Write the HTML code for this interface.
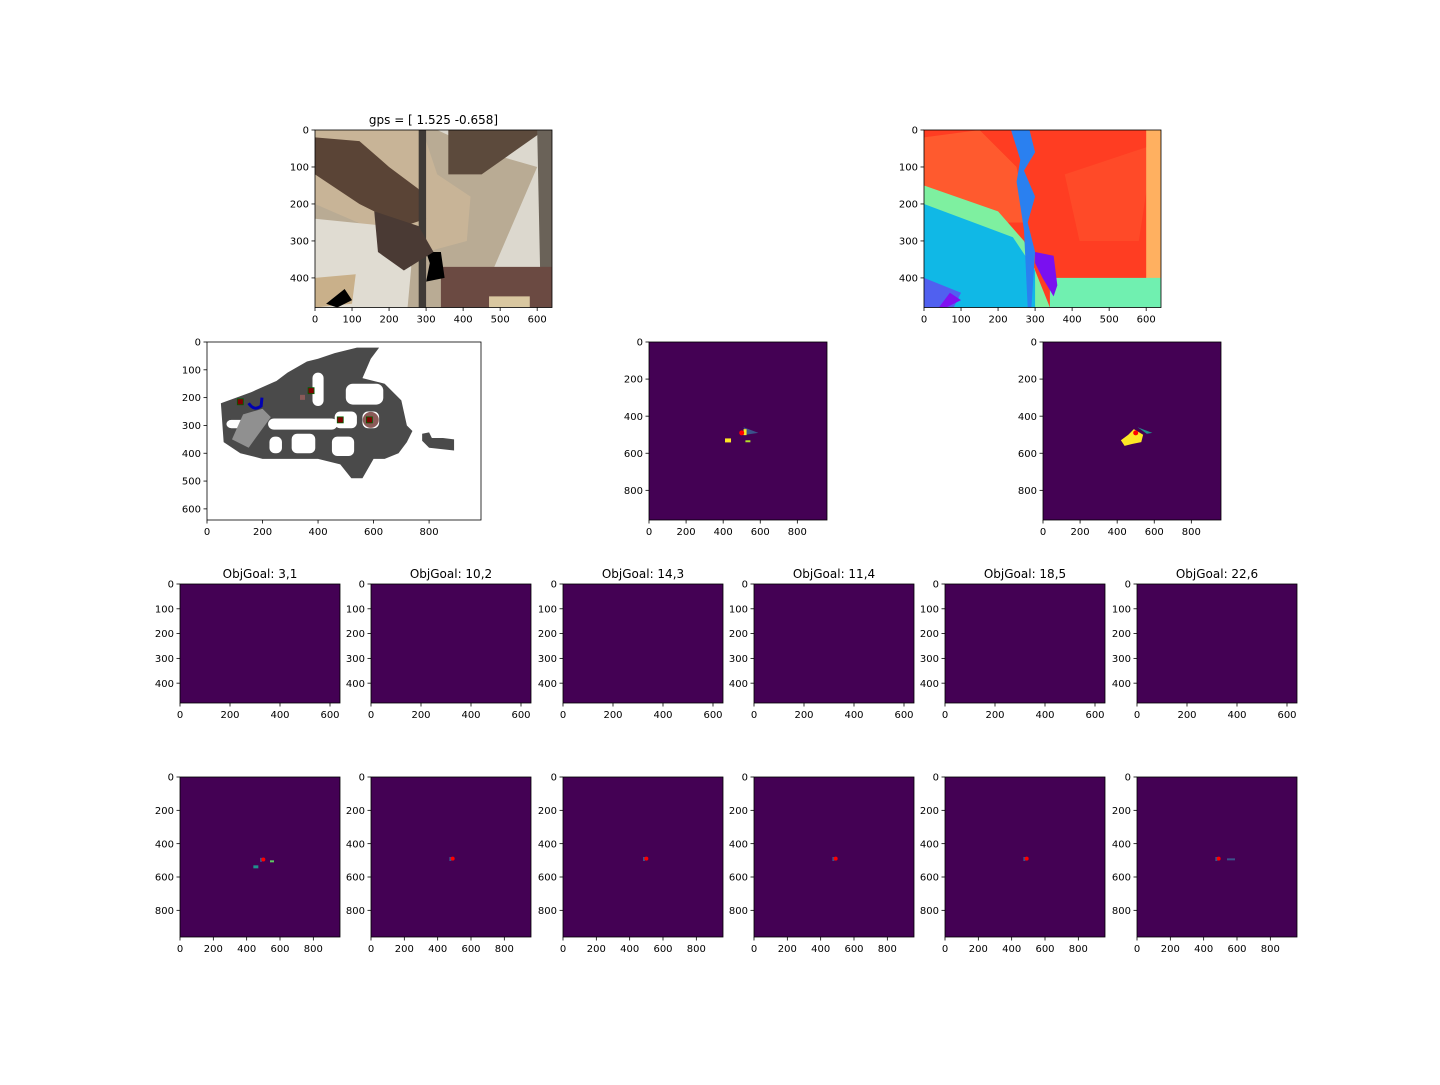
<!DOCTYPE html>
<html><head><meta charset="utf-8"><style>
html,body{margin:0;padding:0;background:#fff;}
svg text{font-family:"DejaVu Sans","Liberation Sans",sans-serif;fill:#000;}
</style></head><body>
<svg id="fig" width="1440" height="1080" xmlns="http://www.w3.org/2000/svg"></svg>
<script>
const titlesRow3 = ["ObjGoal: 3,1","ObjGoal: 10,2","ObjGoal: 14,3","ObjGoal: 11,4","ObjGoal: 18,5","ObjGoal: 22,6"];
const ticks640 = [0,100,200,300,400,500,600];
const ticks480 = [0,100,200,300,400];
const ticksMapX = [0,200,400,600,800];
const ticksMapY = [0,100,200,300,400,500,600];
const ticks960 = [0,200,400,600,800];
const ticksSmall640 = [0,200,400,600];
const agentX = [500,490,500,490,490,490];
const agentY = [495,490,490,490,490,490];
const gpsTitle = "gps = [ 1.525 -0.658]";

const NS="http://www.w3.org/2000/svg";
const fig=document.getElementById('fig');
function el(tag,attrs,parent){const e=document.createElementNS(NS,tag);for(const k in attrs)e.setAttribute(k,attrs[k]);(parent||fig).appendChild(e);return e;}
let clipId=0;
function makeAxes(name,x0,y0,w,h,xlim,ylim,xt,yt,title,bg){
  const g=el('g',{});
  
  
  const id='c'+(clipId++);
  const cp=el('clipPath',{id:id},g);el('rect',{x:x0,y:y0,width:w,height:h},cp);
  const content=el('g',{'clip-path':'url(#'+id+')'},g);
  el('rect',{x:x0,y:y0,width:w,height:h,fill:bg},content);
  const sx=v=>x0+v/xlim*w, sy=v=>y0+v/ylim*h;
  const ax={g,content,sx,sy,x0,y0,w,h};
  ax.finish=function(){
    el('rect',{x:x0,y:y0,width:w,height:h,fill:'none',stroke:'#000','stroke-width':0.8},g);
    xt.forEach(v=>{const x=sx(v);el('line',{x1:x,x2:x,y1:y0+h,y2:y0+h+3.5,stroke:'#000','stroke-width':0.8},g);
      const t=el('text',{x:x,y:y0+h+15,'font-size':10,'text-anchor':'middle'},g);t.textContent=v;
      
      });
    yt.forEach(v=>{const y=sy(v);el('line',{x1:x0-3.5,x2:x0,y1:y,y2:y,stroke:'#000','stroke-width':0.8},g);
      const t=el('text',{x:x0-6,y:y+3.6,'font-size':10,'text-anchor':'end'},g);t.textContent=v;
      
      });
    if(title){const t=el('text',{x:x0+w/2,y:y0-6,'font-size':12,'text-anchor':'middle'},g);t.textContent=title;
      
      }
  };
  return ax;
}
function poly(ax,pts,fill,extra){const p=pts.map(q=>ax.sx(q[0])+','+ax.sy(q[1])).join(' ');const a={points:p,fill:fill};Object.assign(a,extra||{});return el('polygon',a,ax.content);}

// RGB image
const A1=makeAxes('rgb-observation',315,130,237,177.5,640,480,ticks640,ticks480,gpsTitle,'#b9ab94');
poly(A1,[[0,0],[290,0],[330,120],[420,180],[410,300],[300,330],[0,200]],'#c8b497');
poly(A1,[[0,20],[120,30],[200,100],[280,160],[300,240],[240,260],[120,200],[0,120]],'#5a4436');
poly(A1,[[330,0],[640,0],[640,480],[480,480],[480,380],[600,100],[460,60]],'#dcd8ce');
poly(A1,[[360,0],[620,0],[450,120],[360,120]],'#5c4a3c');
poly(A1,[[600,0],[640,0],[640,480],[610,480]],'#6a6258');
poly(A1,[[340,370],[640,370],[640,480],[340,480]],'#6b4a42');
poly(A1,[[470,450],[580,450],[580,480],[470,480]],'#d9c7a0');
poly(A1,[[0,240],[200,260],[260,370],[250,480],[0,480]],'#e0dcd2');
poly(A1,[[0,400],[110,390],[100,470],[0,480]],'#c9b08a');
poly(A1,[[80,430],[100,460],[60,480],[30,470]],'#000');
poly(A1,[[300,330],[340,330],[350,400],[300,410],[310,360]],'#000');
poly(A1,[[280,0],[300,0],[300,480],[280,480]],'#3f3a36');
poly(A1,[[160,220],[280,260],[320,330],[240,380],[170,330]],'#4a3a34');
A1.finish();

// Depth image
const A2=makeAxes('depth-observation',924,130,237,177.5,640,480,ticks640,ticks480,null,'#ff3d22');
poly(A2,[[0,20],[150,0],[250,100],[280,250],[180,250],[80,200],[0,160]],'#ff5a2e');
poly(A2,[[380,120],[620,40],[580,300],[420,300]],'#ff4a28');
poly(A2,[[600,0],[640,0],[640,480],[600,480]],'#ffb060');
poly(A2,[[340,400],[640,400],[640,480],[340,480]],'#70f0b0');
poly(A2,[[0,150],[200,220],[270,300],[300,380],[340,480],[0,480]],'#7ef0a0');
poly(A2,[[0,200],[160,260],[240,290],[300,380],[300,480],[0,480]],'#10b8e6');
poly(A2,[[0,400],[100,440],[80,480],[0,480]],'#5060f0');
poly(A2,[[70,440],[100,460],[60,480],[40,480]],'#8010f0');
poly(A2,[[235,0],[285,0],[300,60],[270,110],[300,180],[280,250],[300,330],[290,480],[280,480],[270,270],[250,140],[260,80]],'#2a80f0');
poly(A2,[[300,330],[350,340],[360,420],[350,450],[320,400],[300,360]],'#7a10f0');
A2.finish();

// Top-down semantic map
const B1=makeAxes('semantic-map',207,342,274,178,987,640,ticksMapX,ticksMapY,null,'#ffffff');
poly(B1,[[50,220],[160,180],[250,140],[290,110],[360,70],[400,60],[460,40],[540,20],[620,20],[590,60],[560,130],[640,150],[700,210],[720,300],[740,320],[720,360],[690,400],[640,420],[600,420],[560,490],[520,490],[480,440],[400,420],[300,420],[200,420],[120,400],[60,360]],'#4a4a4a');
poly(B1,[[775,330],[800,325],[810,345],[850,345],[890,350],[890,390],[800,380],[775,355]],'#4a4a4a');
[[260,280,40,90,20],[320,160,400,60,20],[305,330,390,400,20],[500,150,635,225,25],[460,250,540,310,20],[560,250,620,310,20],[450,340,530,410,20],[225,340,270,400,20],[380,110,420,230,20]].forEach(r=>{
  el('rect',{x:B1.sx(r[0]<r[2]?r[0]:r[2]),y:B1.sy(r[1]),width:Math.abs(B1.sx(r[2])-B1.sx(r[0])),height:B1.sy(r[3])-B1.sy(r[1]),rx:r[4]*0.278,fill:'#fff'},B1.content);});
el('rect',{x:B1.sx(70),y:B1.sy(280),width:B1.sx(180)-B1.sx(70),height:B1.sy(310)-B1.sy(280),rx:5,fill:'#fff'},B1.content);
el('rect',{x:B1.sx(220),y:B1.sy(275),width:B1.sx(470)-B1.sx(220),height:B1.sy(315)-B1.sy(275),rx:6,fill:'#fff'},B1.content);
poly(B1,[[130,260],[200,240],[230,270],[150,380],[90,350]],'#909090');
el('circle',{cx:B1.sx(590),cy:B1.sy(280),r:8,fill:'#8a5a58'},B1.content);
[[120,215],[375,175],[480,280],[585,280]].forEach(p=>el('rect',{x:B1.sx(p[0])-3,y:B1.sy(p[1])-3,width:6,height:6,fill:'#800000',stroke:'#006000','stroke-width':0.8},B1.content));
el('rect',{x:B1.sx(335),y:B1.sy(190),width:5,height:5,fill:'#8a5a58'},B1.content);
el('path',{d:`M${B1.sx(150)},${B1.sy(220)} Q${B1.sx(170)},${B1.sy(250)} ${B1.sx(195)},${B1.sy(230)} L${B1.sx(198)},${B1.sy(200)}`,fill:'none',stroke:'#0000b0','stroke-width':3},B1.content);
B1.finish();

function blobs(ax,cx,cy,big){
  if(big){poly(ax,[[cx-80,cy+40],[cx-40,cy+10],[cx-10,cy-20],[cx+40,cy+10],[cx+30,cy+50],[cx-20,cy+60],[cx-60,cy+70]],'#fde725');
    poly(ax,[[cx+10,cy-30],[cx+90,cy],[cx+60,cy+5]],'#21918c');}
  else{poly(ax,[[cx+10,cy-30],[cx+90,cy],[cx+20,cy+10]],'#3b528b');
    el('rect',{x:ax.sx(cx+10),y:ax.sy(cy-20),width:3,height:6,fill:'#fde725'},ax.content);
    el('rect',{x:ax.sx(cx-90),y:ax.sy(cy+30),width:6,height:4,fill:'#fde725'},ax.content);
    el('rect',{x:ax.sx(cx+20),y:ax.sy(cy+40),width:5,height:2,fill:'#b5de2b'},ax.content);}
  el('circle',{cx:ax.sx(cx),cy:ax.sy(cy),r:2.5,fill:'#ff0000'},ax.content);
}
const B2=makeAxes('local-map-1',649,342,178,178,960,960,ticks960,ticks960,null,'#440154');
blobs(B2,500,490,false);B2.finish();
const B3=makeAxes('local-map-2',1043,342,178,178,960,960,ticks960,ticks960,null,'#440154');
blobs(B3,500,490,true);B3.finish();

const colX=[180,371,563,754,945,1137];
titlesRow3.forEach((t,i)=>{const a=makeAxes('objgoal-map-'+(i+1),colX[i],584,160,119,640,480,ticksSmall640,ticks480,t,'#440154');a.finish();});
colX.forEach((x,i)=>{const a=makeAxes('objgoal-local-map-'+(i+1),x,777,160,160,960,960,ticks960,ticks960,null,'#440154');
  el('rect',{x:a.sx(agentX[i]-20),y:a.sy(agentY[i]-10),width:2,height:4,fill:'#3b528b'},a.content);
  if(i===0){el('rect',{x:a.sx(440),y:a.sy(530),width:5,height:3,fill:'#21918c'},a.content);
    el('rect',{x:a.sx(540),y:a.sy(500),width:4,height:2,fill:'#5ec962'},a.content);}
  if(i===5){el('rect',{x:a.sx(540),y:a.sy(488),width:8,height:2,fill:'#3b528b'},a.content);}
  el('circle',{cx:a.sx(agentX[i]),cy:a.sy(agentY[i]),r:2,fill:'#ff0000'},a.content);
  a.finish();});
</script>
</body></html>
